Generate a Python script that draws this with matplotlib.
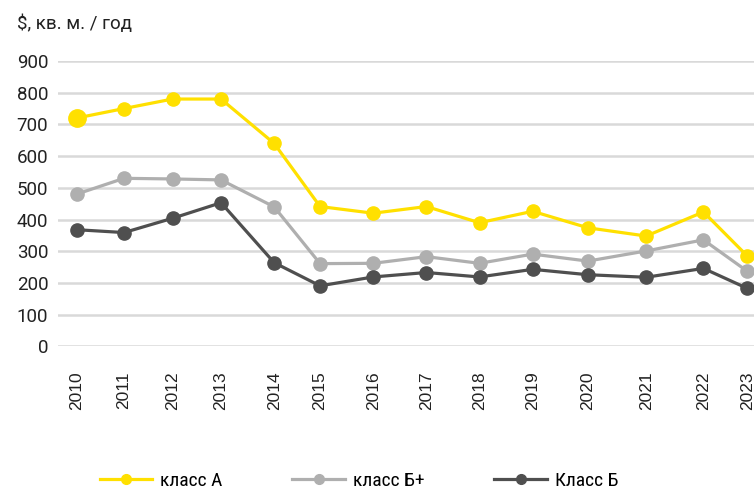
import numpy as np
import matplotlib
matplotlib.use('Agg')
from matplotlib import pyplot as plt
from matplotlib import font_manager

# годы и положение точек на оси (точки в исходнике стоят неравномерно)
years = ['2010', '2011', '2012', '2013', '2014', '2015', '2016',
         '2017', '2018', '2019', '2020', '2021', '2022', '2023']
x_pos = [2010.0, 2010.92, 2011.86, 2012.80, 2013.83, 2014.72, 2015.75,
         2016.78, 2017.81, 2018.84, 2019.91, 2021.04, 2022.15, 2023.0]

# ставки аренды, $ за кв. м. в год
class_a = [720, 750, 780, 780, 640, 441, 420, 441, 390, 426, 374, 348, 424, 285]
class_b_plus = [480, 530, 528, 525, 440, 261, 262, 283, 262, 291, 269, 301, 336, 237]
class_b = [368, 359, 404, 453, 264, 191, 219, 233, 219, 243, 226, 218, 246, 183]

labels = ['класс А', 'класс Б+', 'Класс Б']
colors = ['#FFE000', '#AFAFAF', '#4F4F4F']

# узкий шрифт для легенды, если есть
installed = {f.name for f in font_manager.fontManager.ttflist}
narrow_name = 'Roboto'
for cand in ['Roboto Condensed', 'Open Sans Condensed', 'Liberation Sans Narrow']:
    if cand in installed:
        narrow_name = cand
        break
plt.rcParams['font.family'] = ['Roboto', 'DejaVu Sans']

fig = plt.figure(figsize=(7.54, 4.91), dpi=100)
ax = fig.add_axes([0.0769, 0.2945, 0.9231, 0.5813])

for series, lab, col in zip([class_a, class_b_plus, class_b], labels, colors):
    ax.plot(x_pos, series, color=col, lw=2.3, marker='o', markersize=9.5,
            label=lab, clip_on=False, zorder=3)
# первая точка класса А в оригинале крупнее
ax.plot(x_pos[0], class_a[0], 'o', color=colors[0], markersize=12.5,
        clip_on=False, zorder=4)

ax.set_ylim(0, 900)
ax.set_yticks(np.arange(0, 901, 100))
ax.set_xlim(x_pos[0] - 0.36, x_pos[-1] + 0.13)
ax.set_xticks(x_pos)
ax.set_xticklabels(years, rotation=90, family=['Liberation Sans', 'DejaVu Sans'],
                   fontsize=12.5, color='#222222', va='top')
ax.tick_params(axis='x', length=0, pad=18)
ax.tick_params(axis='y', length=0, pad=7, labelsize=13.5, labelcolor='#222222')
ax.grid(axis='y', color='#D9D9D9', lw=1.8)
ax.set_axisbelow(True)
for s in ax.spines.values():
    s.set_visible(False)
# последнюю подпись чуть левее, чтобы не обрезалась
ax.get_xticklabels()[-1].set_x(x_pos[-1] - 0.12)

fig.text(0.0225, 0.951, '$, кв. м. / год', fontsize=13.5, color='#222222',
         va='center', ha='left')

handles = [plt.Line2D([], [], color=c, lw=2.3, marker='o', markersize=7)
           for c in colors]
fig.legend(handles, labels, loc='center', bbox_to_anchor=(0.476, 0.02),
           ncol=3, frameon=False, handlelength=2.7, handletextpad=0.4,
           columnspacing=3.6,
           prop={'family': [narrow_name, 'DejaVu Sans'], 'size': 14})

plt.savefig('out.png', dpi=100)
